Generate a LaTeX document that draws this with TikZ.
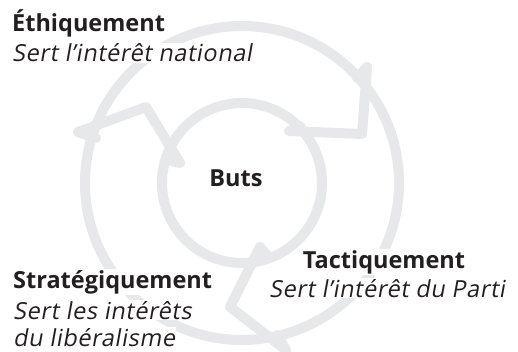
\documentclass[tikz,border=0pt]{standalone}
\usepackage{fontspec}
\setmainfont{Open Sans}
\newfontfamily\slantsans[FakeSlant=0.18,LetterSpace=2.5]{Open Sans}
\usetikzlibrary{positioning}
\definecolor{ringgray}{HTML}{E7E8EA}
\definecolor{inkblack}{HTML}{231F20}
\tikzstyle{ring}=[draw=ringgray, line width=10pt]
\tikzstyle{chev}=[draw=ringgray, line width=10pt, line join=round, line cap=round]
\tikzstyle{headtxt}=[font=\fontsize{23.5}{28}\selectfont\bfseries, text=inkblack,
                     fill=white, inner sep=1pt, anchor=base west]
\tikzstyle{subtxt}=[font=\fontsize{23.5}{28}\selectfont\slantsans, text=inkblack,
                    fill=white, inner sep=1pt, anchor=base west]

\begin{document}
\begin{tikzpicture}[x=1pt,y=-1pt]
\useasboundingbox (0,0) rectangle (518,352);
\fill[white] (0,0) rectangle (518,352);

\coordinate (C) at (242,183);
\draw[ring] (C) circle[radius=157pt];
\draw[ring] (C) circle[radius=80pt];

% chevrons between the two rings
\draw[chev] (96,138) -- (78,132) -- (146,107) -- (180,163) -- (167,160);
\draw[chev] (357,78) -- (367,67) -- (362,134) -- (289,131) -- (300,126);
\draw[chev] (277,335) -- (286,350) -- (230,307) -- (260,247) -- (267,255);

\node (ETH1) [headtxt] at (11,32) {Éthiquement};
\node (ETH2) [subtxt, below=30pt of ETH1.base west, anchor=base west] {Sert l’intérêt national};

\node (STR1) [headtxt] at (12,288) {Stratégiquement};
\node (STR2) [subtxt, below=31pt of STR1.base west, anchor=base west] {Sert les intérêts};
\node (STR3) [subtxt, below=27pt of STR2.base west, anchor=base west] {du libéralisme};

\node (TAC1) [headtxt, anchor=base] at (384,268) {Tactiquement};
\node (TAC2) [subtxt, below=29pt of TAC1.base, anchor=base, xshift=3pt] {Sert l’intérêt du Parti};

\node (BUTS) [headtxt, anchor=base] at (236,187) {Buts};

\end{tikzpicture}
\end{document}
